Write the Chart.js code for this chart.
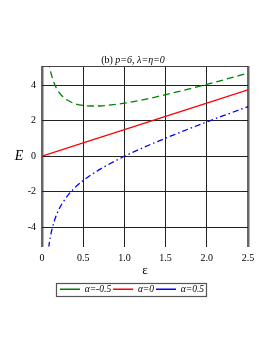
<!DOCTYPE html>
<html>
<head>
<meta charset="utf-8">
<script src="https://cdn.jsdelivr.net/npm/chart.js@4/dist/chart.umd.min.js"></script>
<style>
  html, body { margin: 0; padding: 0; background: #fff; }
  #wrap { width: 273px; height: 353px; position: relative; }
</style>
</head>
<body>
<div id="wrap"><canvas id="energyChart"></canvas></div>
<script>
// data
var eps = [0.08, 0.09, 0.1, 0.12, 0.15, 0.2, 0.25, 0.3, 0.4, 0.5, 0.6, 0.7, 0.8, 1.0, 1.2, 1.4, 1.6, 1.8, 2.0, 2.2, 2.5];
var eAlphaNeg = [5.42, 5.14, 4.89, 4.51, 4.10, 3.65, 3.38, 3.19, 2.97, 2.87, 2.84, 2.84, 2.88, 3.0, 3.17, 3.37, 3.59, 3.82, 4.06, 4.31, 4.70];
var epsZero = [0, 0.5, 1.0, 1.5, 2.0, 2.5];
var eAlphaZero = [0, 0.75, 1.5, 2.25, 3.0, 3.75];
var eAlphaPos = [-5.18, -4.87, -4.59, -4.15, -3.65, -3.05, -2.63, -2.29, -1.77, -1.37, -1.04, -0.74, -0.48, 0.0, 0.43, 0.83, 1.21, 1.58, 1.94, 2.29, 2.80];
var xTicks = [0, 0.5, 1, 1.5, 2, 2.5];
var yTicks = [-4, -2, 0, 2, 4];
var seriesNames = ['\u03b1=-0.5', '\u03b1=0', '\u03b1=0.5'];

//color
var green = 'rgb(0, 128, 0)';
var red = 'rgb(255, 0, 0)';
var blue = 'rgb(0, 0, 255)';
var serif = '"Liberation Serif", "DejaVu Serif", serif';

function pts(xs, ys) {
  return xs.map(function (x, i) { return { x: x, y: ys[i] }; });
}

// extra drawing: title, E label, top frame, legend box
var decorations = {
  id: 'decorations',
  afterDraw: function (chart) {
    var ctx = chart.ctx;
    var area = chart.chartArea;
    ctx.save();
    // top frame line
    ctx.strokeStyle = '#444';
    ctx.lineWidth = 1;
    ctx.beginPath();
    ctx.moveTo(area.left, area.top + 0.5);
    ctx.lineTo(area.right, area.top + 0.5);
    ctx.stroke();
    // title
    ctx.fillStyle = '#000';
    ctx.textBaseline = 'alphabetic';
    var a = '(b) ';
    var b = 'p=6, \u03bb=\u03b7=0';
    ctx.font = '10px ' + serif;
    var wa = ctx.measureText(a).width;
    ctx.font = 'italic 10px ' + serif;
    var wb = ctx.measureText(b).width;
    var x0 = 133 - (wa + wb) / 2;
    ctx.font = '10px ' + serif;
    ctx.fillText(a, x0, 63);
    ctx.font = 'italic 10px ' + serif;
    ctx.fillText(b, x0 + wa, 63);
    // E label
    ctx.font = 'italic 14px ' + serif;
    ctx.textAlign = 'center';
    ctx.textBaseline = 'middle';
    ctx.fillText('E', 19, chart.scales.y.getPixelForValue(0));
    // legend frame
    var boxes = chart.legend.legendHitBoxes;
    if (boxes && boxes.length) {
      var l = Math.min.apply(null, boxes.map(function (h) { return h.left; }));
      var r = Math.max.apply(null, boxes.map(function (h) { return h.left + h.width; }));
      var t = boxes[0].top;
      var hgt = boxes[0].height;
      ctx.strokeStyle = '#555';
      ctx.lineWidth = 1.2;
      ctx.strokeRect(Math.round(l) - 3.5, Math.round(t) - 1.5, Math.round(r - l) + 6, Math.round(hgt) + 3);
    }
    ctx.restore();
  }
};

new Chart(
  document.getElementById('energyChart'), {
    type: 'line',
    data: {
      datasets: [{
        label: seriesNames[0],
        data: pts(eps, eAlphaNeg),
        borderColor: green,
        backgroundColor: green,
        borderWidth: 1.3,
        borderDash: [7, 4],
        pointRadius: 0,
        cubicInterpolationMode: 'monotone'
      }, {
        label: seriesNames[1],
        data: pts(epsZero, eAlphaZero),
        borderColor: red,
        backgroundColor: red,
        borderWidth: 1.3,
        pointRadius: 0
      }, {
        label: seriesNames[2],
        data: pts(eps, eAlphaPos),
        borderColor: blue,
        backgroundColor: blue,
        borderWidth: 1.3,
        borderDash: [6, 3, 1.5, 3],
        pointRadius: 0,
        cubicInterpolationMode: 'monotone'
      }]
    },
    options: {
      responsive: true,
      maintainAspectRatio: false,
      animation: false,
      layout: { padding: { left: 16, right: 25, top: 66, bottom: 49 } },
      plugins: {
        title: { display: false },
        tooltip: { enabled: false },
        legend: {
          position: 'bottom',
          labels: {
            color: '#000',
            font: { family: serif, size: 9.5, style: 'italic' },
            usePointStyle: true,
            pointStyle: 'line',
            pointStyleWidth: 20,
            boxHeight: 6,
            padding: 2
          }
        }
      },
      scales: {
        x: {
          type: 'linear',
          min: 0,
          max: 2.5,
          afterBuildTicks: function (scale) {
            scale.ticks = xTicks.map(function (v) { return { value: v }; });
          },
          afterFit: function (scale) { scale.height = 36; },
          grid: {
            color: function (c) {
              return (c.tick.value === 0 || c.tick.value === 2.5) ? '#666' : '#222';
            },
            lineWidth: function (c) {
              return (c.tick.value === 0 || c.tick.value === 2.5) ? 2.5 : 1;
            },
            drawTicks: false
          },
          border: { display: false },
          ticks: { color: '#000', font: { family: serif, size: 10 }, padding: 6, maxRotation: 0 },
          title: { display: true, text: '\u03b5', color: '#000', font: { family: serif, size: 13 }, padding: { top: 0, bottom: 4 } }
        },
        y: {
          min: -5.1,
          max: 5.1,
          afterBuildTicks: function (scale) {
            scale.ticks = yTicks.map(function (v) { return { value: v }; });
          },
          afterFit: function (scale) { scale.width = 26; },
          grid: { color: '#222', lineWidth: 1, drawTicks: false },
          border: { display: false },
          ticks: { color: '#000', font: { family: serif, size: 10 }, padding: 6 }
        }
      }
    },
    plugins: [decorations]
  }
);
</script>
</body>
</html>
